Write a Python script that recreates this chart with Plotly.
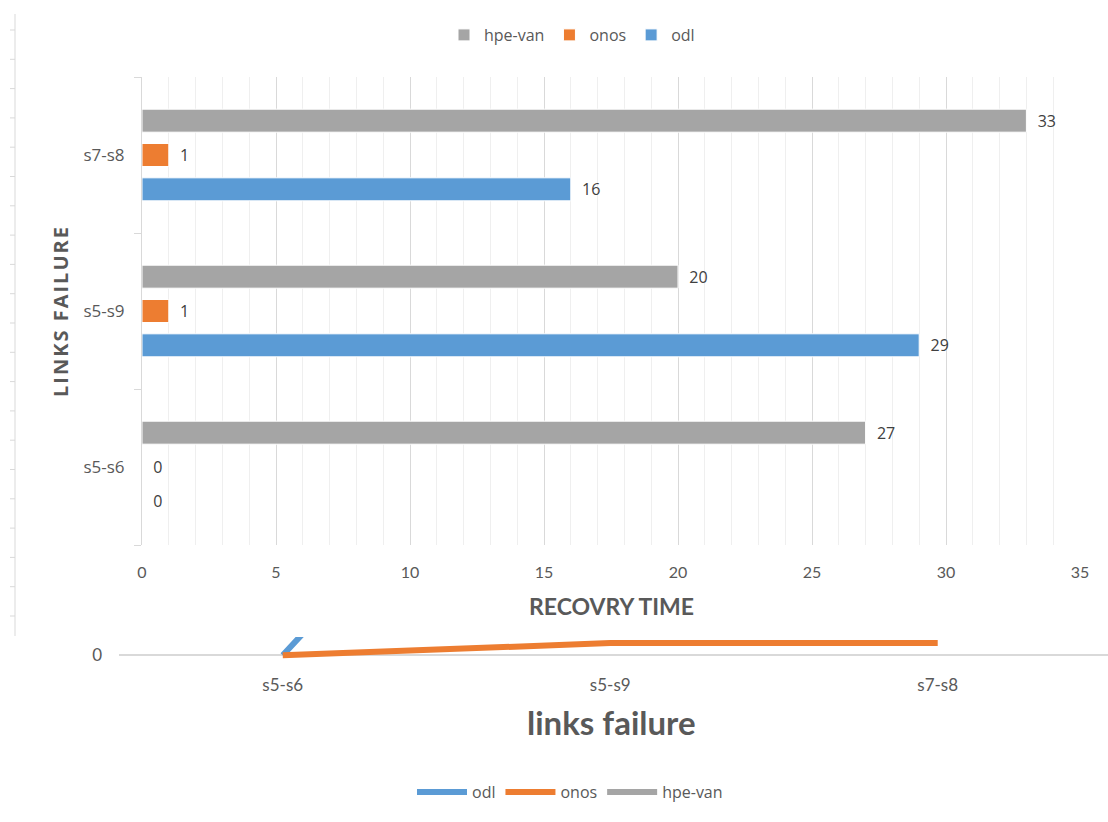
import plotly.graph_objects as go

# ---------------- data ----------------
categories = ["s5-s6", "s5-s9", "s7-s8"]
odl = [0, 29, 16]
onos = [0, 1, 1]
hpe_van = [27, 20, 33]

C_ODL = "#5B9BD5"
C_ONOS = "#ED7D31"
C_HPE = "#A5A5A5"
TXT = "#595959"
NARROW = "Lato, Liberation Sans Narrow, sans-serif"
SANS = "Open Sans, Noto Sans, DejaVu Sans, sans-serif"

W, H = 1108, 822
def px(x):
    return x / W
def py(y):
    return 1 - y / H

fig = go.Figure()

# ---------------- top: horizontal bar chart ----------------
for name, vals, col in [("odl", odl, C_ODL), ("onos", onos, C_ONOS), ("hpe-van", hpe_van, C_HPE)]:
    fig.add_trace(go.Bar(
        y=categories, x=vals, name=name, orientation="h",
        marker=dict(color=col, line=dict(color="white", width=1)),
        texttemplate="\u00a0\u00a0%{x}", textposition="outside", cliponaxis=False,
        textfont=dict(family=SANS, size=16, color="#404040"),
        xaxis="x", yaxis="y", legend="legend",
    ))

# ---------------- bottom: line chart fragment ----------------
for name, vals, col in [("odl", odl, C_ODL), ("onos", onos, C_ONOS), ("hpe-van", hpe_van, C_HPE)]:
    fig.add_trace(go.Scatter(
        x=categories, y=vals, name=name, mode="lines",
        line=dict(color=col, width=6),
        xaxis="x2", yaxis="y2", legend="legend2",
    ))

fig.update_layout(
    width=W, height=H,
    margin=dict(l=0, r=0, t=0, b=0, autoexpand=False),
    paper_bgcolor="white", plot_bgcolor="white",
    barmode="group", bargap=0.34, bargroupgap=0.33,
    font=dict(family=SANS, color=TXT, size=15),
    xaxis=dict(
        domain=[px(142), px(1080)], anchor="y", range=[0, 35], automargin=False,
        dtick=5, showgrid=True, gridcolor="#d9d9d9", gridwidth=1,
        minor=dict(dtick=1, showgrid=True, gridcolor="#efefef", gridwidth=1),
        zeroline=False, showline=False, ticks="",
        tickfont=dict(family=NARROW, size=16, color=TXT),
        ticklabelstandoff=16,
    ),
    yaxis=dict(
        domain=[py(545), py(77)], anchor="x", automargin=False,
        categoryorder="array", categoryarray=categories,
        showline=True, linecolor="#d9d9d9", linewidth=1,
        ticks="outside", tickson="boundaries", ticklen=7, tickcolor="#d9d9d9",
        showgrid=False, zeroline=False,
        tickfont=dict(family=SANS, size=17, color=TXT),
        ticklabelstandoff=13,
    ),
    xaxis2=dict(
        domain=[px(119), px(1108)], anchor="y2", type="category", automargin=False,
        range=[-0.5, 2.52], showgrid=False, showline=False, ticks="",
        tickfont=dict(family=NARROW, size=17, color=TXT),
        ticklabelstandoff=14,
    ),
    yaxis2=dict(
        domain=[py(659), py(637)], anchor="x2", range=[-0.3, 1.5], automargin=False,
        tickvals=[0], ticktext=["0"], showgrid=False, showline=False,
        zeroline=True, zerolinecolor="#d9d9d9", zerolinewidth=2,
        tickfont=dict(family=NARROW, size=17, color=TXT),
        ticklabelstandoff=16,
    ),
    legend=dict(
        orientation="h", traceorder="reversed",
        x=px(572), xanchor="center", y=py(35), yanchor="middle",
        font=dict(family=SANS, size=16, color=TXT),
        itemwidth=30, bgcolor="rgba(0,0,0,0)",
    ),
    legend2=dict(
        orientation="h", traceorder="normal",
        x=px(570), xanchor="center", y=py(792), yanchor="middle",
        font=dict(family=SANS, size=16, color=TXT),
        itemwidth=50, bgcolor="rgba(0,0,0,0)",
    ),
    showlegend=True,
)

hs = "\u200a"
yt = hs.join("LINKS") + hs + " " + hs + hs.join("FAILURE")
annotations = [
    dict(text="<b>" + yt + "</b>", x=px(60), y=py(312), textangle=-90,
         font=dict(family=SANS, size=20, color=TXT)),
    dict(text="<b>RECOVRY TIME</b>", x=px(611), y=py(606),
         font=dict(family=NARROW, size=23, color=TXT)),
    dict(text="<b>links failure</b>", x=px(611), y=py(722),
         font=dict(family=NARROW, size=33, color=TXT)),
]
for a in annotations:
    a.update(xref="paper", yref="paper", showarrow=False, xanchor="center", yanchor="middle")
fig.update_layout(annotations=annotations)

# decorative left border of the screenshot card
shapes = [dict(type="line", xref="paper", yref="paper",
               x0=px(15), x1=px(15), y0=py(636), y1=py(14),
               line=dict(color="#d9d9d9", width=1))]
ty = 30
while ty < 630:
    shapes.append(dict(type="line", xref="paper", yref="paper",
                       x0=px(10), x1=px(15), y0=py(ty), y1=py(ty),
                       line=dict(color="#d9d9d9", width=1)))
    ty += 29.3
fig.update_layout(shapes=shapes)

fig.write_html("out.html")
